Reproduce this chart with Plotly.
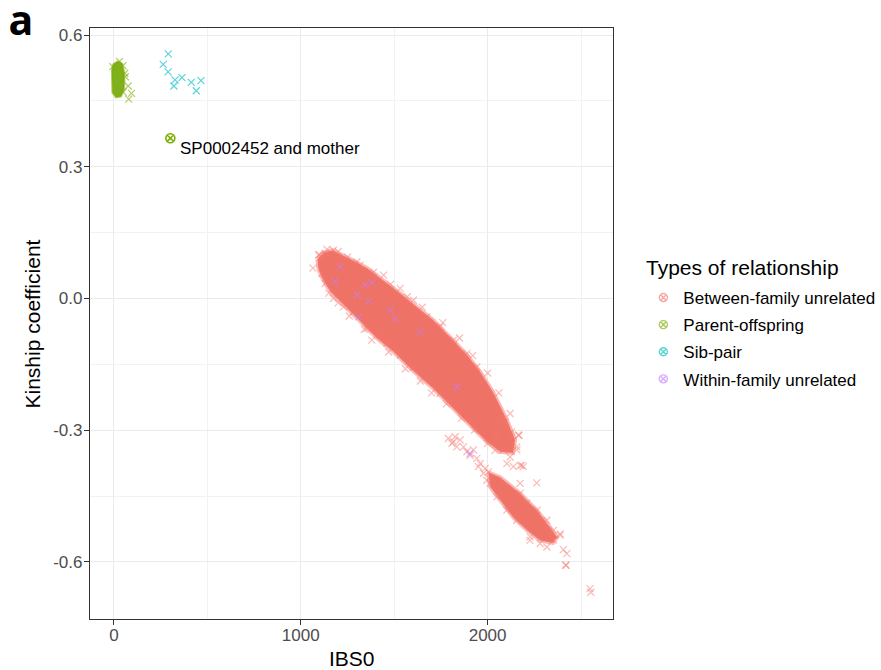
import plotly.graph_objects as go

# ---------------- data ----------------
# Dense between-family cloud: outline of the solid upper band (IBS0, kinship)
bf_upper_x = [1090, 1120, 1168, 1220, 1265, 1356, 1441, 1532, 1623, 1709, 1799, 1890, 1960, 2029, 2104, 2147, 2136,
              2067, 1997, 1906, 1815, 1709, 1586, 1495, 1409, 1318, 1227, 1158, 1110, 1092]
bf_upper_y = [0.090, 0.104, 0.110, 0.100, 0.090, 0.069, 0.042, 0.012, -0.020, -0.049, -0.088, -0.129, -0.167, -0.213, -0.277, -0.322, -0.352,
              -0.349, -0.327, -0.287, -0.250, -0.205, -0.159, -0.121, -0.091, -0.052, -0.013, 0.016, 0.050, 0.072]
# outline of the solid lower band
bf_lower_x = [2004, 2067, 2174, 2265, 2334, 2372, 2350, 2281, 2211, 2136, 2067, 2013]
bf_lower_y = [-0.396, -0.407, -0.444, -0.483, -0.521, -0.544, -0.557, -0.551, -0.528, -0.498, -0.459, -0.429]
# individually visible between-family points (edges, bridge, outliers)
bf_pts_x = [1065, 1095, 1131, 1175, 1113, 1131, 1175, 1229, 1282, 1354, 1425, 1461, 1532, 1603, 1675, 1746,
            1318, 1443, 1532, 1603, 1675, 1746, 1817, 1889, 1942,
            1906, 1960, 1996, 2031, 2067, 2094, 2129, 2165, 2156,
            1790, 1817, 1835, 1809, 1871, 1889, 1906, 1924, 1942, 1960, 1987, 1978, 2004, 1996, 1951, 1853, 1826,
            2049, 2084, 2120, 2156, 2174, 2191, 2103, 2138, 2168, 2183, 2263, 2174,
            2013, 2049, 2103, 2156, 2227, 2281, 2317, 2352, 2388, 2174, 2209, 2265, 2317, 2352,
            2405, 2424, 2388, 2227, 2418, 2420, 2548, 2552,
            1100, 1140, 1200, 1250, 1300, 1390, 1480, 1570, 1650, 1760, 1850, 1920, 2000, 2060, 2120,
            1150, 1200, 1260, 1340, 1380, 1470, 1560, 1640, 1700, 1780, 1860, 1930, 2000, 2040]
bf_pts_y = [0.069, 0.099, 0.103, 0.110, 0.057, 0.034, 0.000, -0.019, -0.030, -0.068, -0.083, -0.102, -0.129, -0.156, -0.178, -0.216,
            0.076, 0.053, 0.023, -0.004, -0.042, -0.064, -0.095, -0.125, -0.156,
            -0.171, -0.194, -0.216, -0.247, -0.269, -0.281, -0.304, -0.311, -0.338,
            -0.319, -0.326, -0.338, -0.330, -0.338, -0.349, -0.357, -0.345, -0.364, -0.376, -0.387, -0.398, -0.395, -0.414, -0.383, -0.322, -0.315,
            -0.315, -0.345, -0.361, -0.345, -0.380, -0.383, -0.376, -0.383, -0.312, -0.380, -0.420, -0.421,
            -0.421, -0.452, -0.482, -0.505, -0.543, -0.558, -0.566, -0.550, -0.536, -0.444, -0.467, -0.482, -0.505, -0.528,
            -0.572, -0.581, -0.539, -0.551, -0.607, -0.608, -0.661, -0.669,
            0.100, 0.112, 0.107, 0.094, 0.083, 0.060, 0.032, 0.004, -0.020, -0.055, -0.090, -0.130, -0.170, -0.215, -0.262,
            0.012, -0.010, -0.040, -0.070, -0.095, -0.122, -0.160, -0.188, -0.215, -0.240, -0.273, -0.300, -0.330, -0.346]

# Parent-offspring: dense blob outline and visible stragglers
po_blob_x = [-5, 21, 43, 53, 56, 53, 37, 11, -8, -11, -11]
po_blob_y = [0.533, 0.540, 0.535, 0.519, 0.497, 0.474, 0.460, 0.458, 0.469, 0.497, 0.519]
po_pts_x = [61, 76, 94, 79, 58, 48, 50, -6, 30]
po_pts_y = [0.505, 0.484, 0.467, 0.454, 0.513, 0.530, 0.470, 0.528, 0.540]

# Sib-pairs
sib_x = [291, 264, 290, 327, 364, 321, 414, 466, 441]
sib_y = [0.557, 0.533, 0.516, 0.498, 0.503, 0.484, 0.492, 0.496, 0.473]

# Within-family unrelated
wf_x = [1184, 1345, 1381, 1301, 1309, 1479, 1505, 1639, 1211, 1363, 1835, 1906]
wf_y = [0.038, 0.031, 0.036, 0.008, -0.042, -0.026, -0.046, -0.076, 0.072, -0.006, -0.201, -0.353]

# highlighted pair
hl_x = [302]
hl_y = [0.365]
hl_label = "SP0002452 and mother"
hl_label_x = 345
hl_label_y = 0.342

categories = ["Between-family unrelated", "Parent-offspring", "Sib-pair", "Within-family unrelated"]
colors = ["#F8766D", "#7CAE00", "#00BFC4", "#C77CFF"]
legend_title = "Types of relationship"

x_tickvals = [0, 1000, 2000]
x_ticktext = ["0", "1000", "2000"]
y_tickvals = [-0.6, -0.3, 0.0, 0.3, 0.6]
y_ticktext = ["-0.6", "-0.3", "0.0", "0.3", "0.6"]

# ---------------- figure ----------------
FONT = "Liberation Sans, Arial, sans-serif"


def rgba(hexc, a):
    h = hexc.lstrip("#")
    r, g, b = int(h[0:2], 16), int(h[2:4], 16), int(h[4:6], 16)
    return f"rgba({r},{g},{b},{a})"


fig = go.Figure()

xmark = dict(symbol="x-thin-open", size=7, line=dict(width=1.2))

# between-family dense bands
for px, py in [(bf_upper_x, bf_upper_y), (bf_lower_x, bf_lower_y)]:
    fig.add_trace(go.Scatter(x=px + [px[0]], y=py + [py[0]], mode="lines", fill="toself",
                             fillcolor="#EE7366", line=dict(color=rgba(colors[0], 0.5), width=4),
                             showlegend=False, hoverinfo="skip"))
fig.add_trace(go.Scatter(x=bf_pts_x, y=bf_pts_y, mode="markers", showlegend=False,
                         marker=dict(color=rgba(colors[0], 0.5), **xmark)))

# parent-offspring
fig.add_trace(go.Scatter(x=po_blob_x + [po_blob_x[0]], y=po_blob_y + [po_blob_y[0]], mode="lines",
                         fill="toself", fillcolor="#80B11C", line=dict(color=rgba(colors[1], 0.6), width=2),
                         showlegend=False, hoverinfo="skip"))
fig.add_trace(go.Scatter(x=po_pts_x, y=po_pts_y, mode="markers", showlegend=False,
                         marker=dict(color=rgba(colors[1], 0.6), **xmark)))

# sib-pairs
fig.add_trace(go.Scatter(x=sib_x, y=sib_y, mode="markers", showlegend=False,
                         marker=dict(color=rgba(colors[2], 0.65), **xmark)))

# within-family
fig.add_trace(go.Scatter(x=wf_x, y=wf_y, mode="markers", showlegend=False,
                         marker=dict(color=rgba(colors[3], 0.55), **xmark)))

# highlighted point
fig.add_trace(go.Scatter(x=hl_x, y=hl_y, mode="markers", showlegend=False,
                         marker=dict(symbol="circle-x-open", size=9, color=colors[1], line=dict(width=1.6))))

# legend entries
for i, (name, c) in enumerate(zip(categories, colors)):
    fig.add_trace(go.Scatter(x=[None], y=[None], mode="markers", name=name, legendgroup=name,
                             marker=dict(symbol="circle-x-open", size=8, color=rgba(c, 0.65), line=dict(width=1.4))))

fig.add_annotation(x=hl_label_x, y=hl_label_y, text=hl_label, showarrow=False, xanchor="left", yanchor="middle",
                   font=dict(family=FONT, size=17, color="black"))

# panel label
fig.add_annotation(x=-0.132, y=1.0155, xref="paper", yref="paper", text="<b>a</b>", showarrow=False,
                   xanchor="center", yanchor="middle", height=36, width=30, valign="middle",
                   font=dict(family="Open Sans, Liberation Sans, sans-serif", size=41, color="black"))
# axis titles
fig.add_annotation(x=-0.109, y=0.5, xref="paper", yref="paper", text="Kinship coefficient", textangle=-90,
                   showarrow=False, xanchor="center", yanchor="middle",
                   font=dict(family=FONT, size=21, color="black"))
fig.add_annotation(x=0.5, y=-0.066, xref="paper", yref="paper", text="IBS0",
                   showarrow=False, xanchor="center", yanchor="middle",
                   font=dict(family=FONT, size=21, color="black"))
# legend title
fig.add_annotation(x=1.059, y=0.5956, xref="paper", yref="paper", text=legend_title,
                   showarrow=False, xanchor="left", yanchor="middle",
                   font=dict(family=FONT, size=21, color="black"))

axis_common = dict(showline=True, linecolor="#333333", linewidth=1.3, mirror=True,
                   showgrid=True, gridcolor="#EBEBEB", gridwidth=1.2,
                   ticks="outside", ticklen=5, tickcolor="#333333", tickwidth=1.2,
                   tickfont=dict(family=FONT, size=17, color="#4D4D4D"), zeroline=False,
                   automargin=False)

fig.update_xaxes(range=[-128, 2671], tickvals=x_tickvals, ticktext=x_ticktext, ticklabelstandoff=-5,
                 minor=dict(tickvals=[500, 1500, 2500], showgrid=True, gridcolor="#F2F2F2", gridwidth=0.8, ticks=""),
                 **axis_common)
fig.update_yaxes(range=[-0.730, 0.616], tickvals=y_tickvals, ticktext=y_ticktext, ticklabelstandoff=-2,
                 minor=dict(tickvals=[-0.45, -0.15, 0.15, 0.45], showgrid=True, gridcolor="#F2F2F2", gridwidth=0.8, ticks=""),
                 **axis_common)

fig.update_layout(
    width=881, height=670,
    margin=dict(l=90, r=268, t=28, b=51, autoexpand=False),
    plot_bgcolor="white", paper_bgcolor="white",
    font=dict(family=FONT),
    legend=dict(x=1.058, xanchor="left", y=0.4746, yanchor="middle",
                font=dict(family=FONT, size=17, color="black"),
                tracegroupgap=2, bgcolor="rgba(0,0,0,0)"),
)

# remove the browser's default 8px body margin so the figure fills the window exactly
fig.write_html("out.html", config={"displayModeBar": False},
               post_script="document.body.style.margin='0px';document.body.style.overflow='hidden';")
